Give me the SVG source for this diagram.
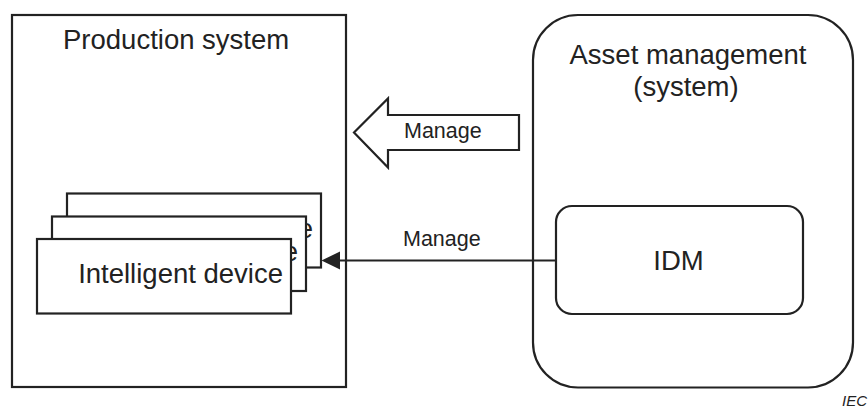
<svg xmlns="http://www.w3.org/2000/svg" width="868" height="408" viewBox="0 0 868 408">
<defs>
<style>
.box{fill:#fff;stroke:#222;stroke-width:2.2}
.t{font-family:"Liberation Sans",Arial,sans-serif;fill:#222}
.big{font-size:27.5px}
.small{font-size:21.5px}
.line{stroke:#222;stroke-width:2.2;fill:none}
</style>
</defs>
<rect width="868" height="408" fill="#fff"/>
<g id="production-system">
<rect class="box" x="12" y="15" width="334" height="372"/>
<text class="t big" x="63" y="49">Production system</text>
</g>
<g id="device-3">
<rect class="box" x="67" y="193.5" width="254" height="74"/>
<text class="t big" x="313" y="238" text-anchor="end">e</text>
</g>
<g id="device-2">
<rect class="box" x="52" y="216.5" width="254" height="74.5"/>
<text class="t big" x="298" y="261" text-anchor="end">e</text>
</g>
<g id="device-1">
<rect class="box" x="37" y="239" width="254" height="74.5"/>
<text class="t big" x="283" y="283" text-anchor="end">Intelligent device</text>
</g>
<g id="asset-management">
<rect class="box" x="533" y="15" width="320" height="372.5" rx="45" ry="45"/>
<text class="t big" x="688" y="64" text-anchor="middle">Asset management</text>
<text class="t big" x="686" y="95.5" text-anchor="middle">(system)</text>
</g>
<g id="idm">
<rect class="box" x="556" y="206" width="247" height="108" rx="16" ry="16"/>
<text class="t big" x="678.5" y="269.5" text-anchor="middle">IDM</text>
</g>
<g id="connectors">
<g id="manage-block-arrow">
<polygon class="box" points="354,132.5 388,98.5 388,115 519,115 519,150 388,150 388,167.5"/>
<text class="t small" x="404" y="137.5">Manage</text>
</g>
<g id="manage-line">
<line class="line" x1="556" y1="260.5" x2="340" y2="260.5"/>
<path d="M321.5,260.5 L340,251.5 L340,269.5 Z" fill="#222"/>
<text class="t small" x="403" y="246">Manage</text>
</g>
</g>
<text class="t" x="867" y="406" text-anchor="end" font-size="15" font-style="italic">IEC</text>
</svg>
